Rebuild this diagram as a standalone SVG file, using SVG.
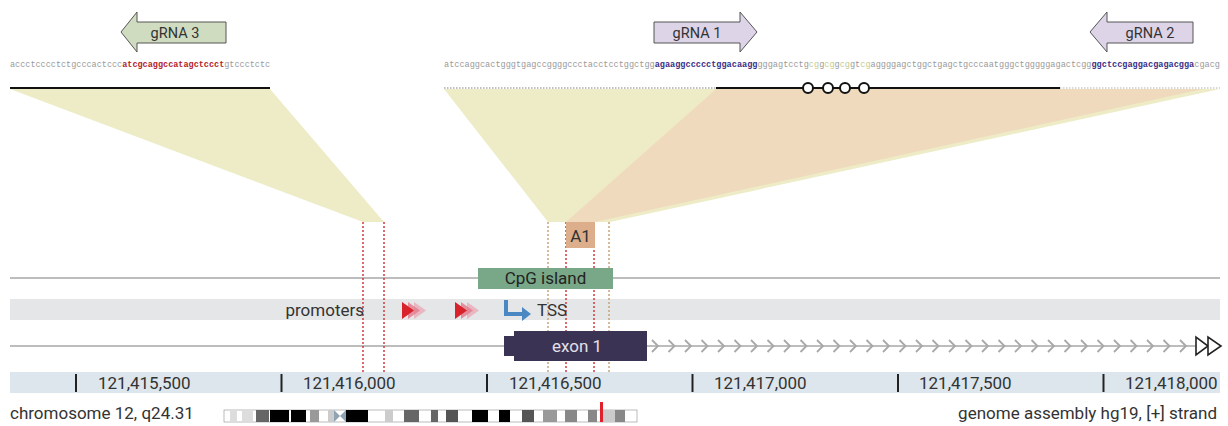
<svg xmlns="http://www.w3.org/2000/svg" width="1228" height="426" viewBox="0 0 1228 426">
<style>
.lbl{font-family:Roboto,"Liberation Sans",sans-serif;font-size:17px;fill:#333}
.g{font-family:Roboto,"Liberation Sans",sans-serif;font-size:14.5px;fill:#333;text-anchor:middle}
.seq{font-family:"Liberation Mono","DejaVu Sans Mono",monospace;font-size:8.57px;fill:#9a9a9a}
.r{fill:#b3232b;font-weight:bold}
.b{fill:#3a2f86;font-weight:bold}
.cg{fill:#c3cc8e}
.dr{stroke:#d23a3a;stroke-width:1.5;stroke-dasharray:2 2;fill:none}
.dt{stroke:#c9a57a;stroke-width:1.5;stroke-dasharray:2 2;fill:none}
.chev{stroke:#a8a8a8;stroke-width:1.8;fill:none}
.tick{stroke:#222;stroke-width:2}
</style>
<rect width="1228" height="426" fill="#fff"/>

<g id="connectors">
  <polygon points="10,89 270,89 384,222 363,222" fill="#eeecc7"/>
  <polygon points="444,89 1220,89 610,222 548,222" fill="#eeecc7"/>
  <polygon points="716,89 1203,89 595,222 566,222" fill="#f0d4ba" opacity="0.75"/>
  <line x1="10" y1="88" x2="270" y2="88" stroke="#111" stroke-width="2"/>
  <line x1="444" y1="88" x2="716" y2="88" stroke="#aaa" stroke-width="1.5" stroke-dasharray="1.5 1.5"/>
  <line x1="1060" y1="88" x2="1220" y2="88" stroke="#ccc" stroke-width="1.5" stroke-dasharray="1.5 1.5"/>
  <line x1="716" y1="88" x2="1060" y2="88" stroke="#111" stroke-width="2"/>
  <g fill="#fff" stroke="#111" stroke-width="2">
    <circle cx="808" cy="88" r="5"/>
    <circle cx="828" cy="88" r="5"/>
    <circle cx="845" cy="88" r="5"/>
    <circle cx="864" cy="88" r="5"/>
  </g>
</g>

<g id="sequences">
  <text class="seq" x="10" y="67" style="font-size:8.5px">accctcccctctgcccactccc<tspan class="r">atcgcaggccatagctccct</tspan>gtccctctc</text>
  <text class="seq" x="444" y="67">atccaggcactgggtgagccggggccctacctcctggctgg<tspan class="b">agaaggccccctggacaagg</tspan>gggagtcctg<tspan class="cg">cg</tspan>g<tspan class="cg">cg</tspan>g<tspan class="cg">cg</tspan>gt<tspan class="cg">cg</tspan>aggggagctggctgagctgcccaatgggctgggggagactcgg<tspan class="b">ggctccgaggacgagacgga</tspan>cgacg</text>
</g>

<g id="gRNA3">
  <polygon points="121,32 137,12 137,22 226,22 226,43 137,43 137,52" fill="#cfdcc0" stroke="#555" stroke-width="1"/>
  <text class="g" x="175" y="37.5">gRNA 3</text>
</g>
<g id="gRNA1">
  <polygon points="654,22 740,22 740,12 757,32 740,52 740,43 654,43" fill="#ddd4e8" stroke="#555" stroke-width="1"/>
  <text class="g" x="697" y="37.5">gRNA 1</text>
</g>
<g id="gRNA2">
  <polygon points="1090,32 1107,12 1107,22 1193,22 1193,43 1107,43 1107,52" fill="#ddd4e8" stroke="#555" stroke-width="1"/>
  <text class="g" x="1150" y="37.5">gRNA 2</text>
</g>

<g id="tracks">
  <line x1="10" y1="278" x2="1220" y2="278" stroke="#bdbdbd" stroke-width="2"/>
  <rect x="10" y="299" width="1210" height="21" fill="#e5e6e7"/>
  <line x1="10" y1="346" x2="1196" y2="346" stroke="#bdbdbd" stroke-width="2"/>
</g>

<g id="cut-lines">
  <line class="dr" x1="363" y1="222" x2="363" y2="374"/>
  <line class="dr" x1="384" y1="222" x2="384" y2="374"/>
  <line class="dt" x1="548" y1="222" x2="548" y2="374"/>
  <line class="dr" x1="566" y1="222" x2="566" y2="374"/>
  <line class="dr" x1="594" y1="222" x2="594" y2="374"/>
  <line class="dt" x1="609" y1="222" x2="609" y2="374"/>
</g>

<g id="A1">
  <rect x="566" y="222" width="29" height="26" fill="#dcae8c"/>
  <text class="lbl" x="580.5" y="242" text-anchor="middle">A1</text>
</g>

<g id="cpg">
  <rect x="478" y="268" width="135" height="21" fill="#79a888"/>
  <text class="lbl" x="545.5" y="284" text-anchor="middle" style="fill:#222">CpG island</text>
</g>

<g id="promoters">
  <text class="lbl" x="364" y="316" text-anchor="end">promoters</text>
  <polygon points="414,302 414,319 426,310.5" fill="#e9a3b0" opacity="0.7"/>
  <polygon points="408,302 408,319 420,310.5" fill="#e27b8c" opacity="0.8"/>
  <polygon points="402,302 402,319 414,310.5" fill="#d8232c"/>
  <polygon points="467,302 467,319 479,310.5" fill="#e9a3b0" opacity="0.7"/>
  <polygon points="461,302 461,319 473,310.5" fill="#e27b8c" opacity="0.8"/>
  <polygon points="455,302 455,319 467,310.5" fill="#d8232c"/>
</g>

<g id="TSS">
  <path d="M506,300 V314 H524" fill="none" stroke="#4a88c4" stroke-width="4"/>
  <polygon points="522,307 531,314 522,321" fill="#4a88c4"/>
  <text class="lbl" x="537" y="316">TSS</text>
</g>

<g id="exon1">
  <rect x="504" y="336" width="12" height="20" fill="#3b3354"/>
  <rect x="514" y="331" width="133" height="30" fill="#3b3354"/>
  <text class="lbl" x="577" y="352" text-anchor="middle" style="fill:#e2e0ea">exon 1</text>
</g>

<g id="strand">
  <path class="chev" d="M652,340 l6,6 l-6,6 M668.5,340 l6,6 l-6,6 M685,340 l6,6 l-6,6 M701.5,340 l6,6 l-6,6 M718,340 l6,6 l-6,6 M734.5,340 l6,6 l-6,6 M751,340 l6,6 l-6,6 M767.5,340 l6,6 l-6,6 M784,340 l6,6 l-6,6 M800.5,340 l6,6 l-6,6 M817,340 l6,6 l-6,6 M833.5,340 l6,6 l-6,6 M850,340 l6,6 l-6,6 M866.5,340 l6,6 l-6,6 M883,340 l6,6 l-6,6 M899.5,340 l6,6 l-6,6 M916,340 l6,6 l-6,6 M932.5,340 l6,6 l-6,6 M949,340 l6,6 l-6,6 M965.5,340 l6,6 l-6,6 M982,340 l6,6 l-6,6 M998.5,340 l6,6 l-6,6 M1015,340 l6,6 l-6,6 M1031.5,340 l6,6 l-6,6 M1048,340 l6,6 l-6,6 M1064.5,340 l6,6 l-6,6 M1081,340 l6,6 l-6,6 M1097.5,340 l6,6 l-6,6 M1114,340 l6,6 l-6,6 M1130.5,340 l6,6 l-6,6 M1147,340 l6,6 l-6,6 M1163.5,340 l6,6 l-6,6 M1180,340 l6,6 l-6,6"/>
  <polygon points="1196,337 1196,355 1208,346" fill="#fff" stroke="#222" stroke-width="1.6"/>
  <polygon points="1208,337 1208,355 1221,346" fill="#fff" stroke="#222" stroke-width="1.6"/>
</g>

<g id="ruler">
  <rect x="10" y="372" width="1210" height="21" fill="#dce6ec"/>
  <line class="tick" x1="76" y1="374" x2="76" y2="392"/>
  <line class="tick" x1="281.5" y1="374" x2="281.5" y2="392"/>
  <line class="tick" x1="487" y1="374" x2="487" y2="392"/>
  <line class="tick" x1="692.5" y1="374" x2="692.5" y2="392"/>
  <line class="tick" x1="898" y1="374" x2="898" y2="392"/>
  <line class="tick" x1="1103.5" y1="374" x2="1103.5" y2="392"/>
  <text class="lbl" x="98" y="389">121,415,500</text>
  <text class="lbl" x="303" y="389">121,416,000</text>
  <text class="lbl" x="509" y="389">121,416,500</text>
  <text class="lbl" x="714" y="389">121,417,000</text>
  <text class="lbl" x="919" y="389">121,417,500</text>
  <text class="lbl" x="1125" y="389">121,418,000</text>
</g>

<g id="chromosome">
  <text class="lbl" x="10" y="419">chromosome 12, q24.31</text>
  <rect x="224" y="410" width="413" height="12" fill="#fff" stroke="#aaa" stroke-width="0.8"/>
  <g stroke="none">
    <rect x="230" y="410" width="7" height="12" fill="#ddd"/>
    <rect x="242" y="410" width="11" height="12" fill="#ddd"/>
    <rect x="256" y="410" width="13" height="12" fill="#666"/>
    <rect x="270" y="410" width="19" height="12" fill="#000"/>
    <rect x="291" y="410" width="15" height="12" fill="#000"/>
    <rect x="310" y="410" width="9" height="12" fill="#999"/>
    <rect x="328" y="410" width="6" height="12" fill="#ccc"/>
    <polygon points="334,410 340,416 334,422" fill="#8fa3b3"/>
    <polygon points="346,410 340,416 346,422" fill="#8fa3b3"/>
    <rect x="346" y="410" width="22" height="12" fill="#000"/>
    <rect x="385" y="410" width="8" height="12" fill="#ccc"/>
    <rect x="404" y="410" width="15" height="12" fill="#666"/>
    <rect x="431" y="410" width="7" height="12" fill="#666"/>
    <rect x="446" y="410" width="12" height="12" fill="#555"/>
    <rect x="472" y="410" width="16" height="12" fill="#000"/>
    <rect x="499" y="410" width="11" height="12" fill="#000"/>
    <rect x="522" y="410" width="12" height="12" fill="#555"/>
    <rect x="543" y="410" width="14" height="12" fill="#999"/>
    <rect x="565" y="410" width="12" height="12" fill="#888"/>
    <rect x="588" y="410" width="9" height="12" fill="#888"/>
    <rect x="603" y="410" width="12" height="12" fill="#ccc"/>
    <rect x="615" y="410" width="10" height="12" fill="#888"/>
  </g>
  <rect x="600" y="402" width="3" height="20" fill="#e0202a"/>
</g>

<text class="lbl" x="1217" y="419" text-anchor="end">genome assembly hg19, [+] strand</text>
</svg>
